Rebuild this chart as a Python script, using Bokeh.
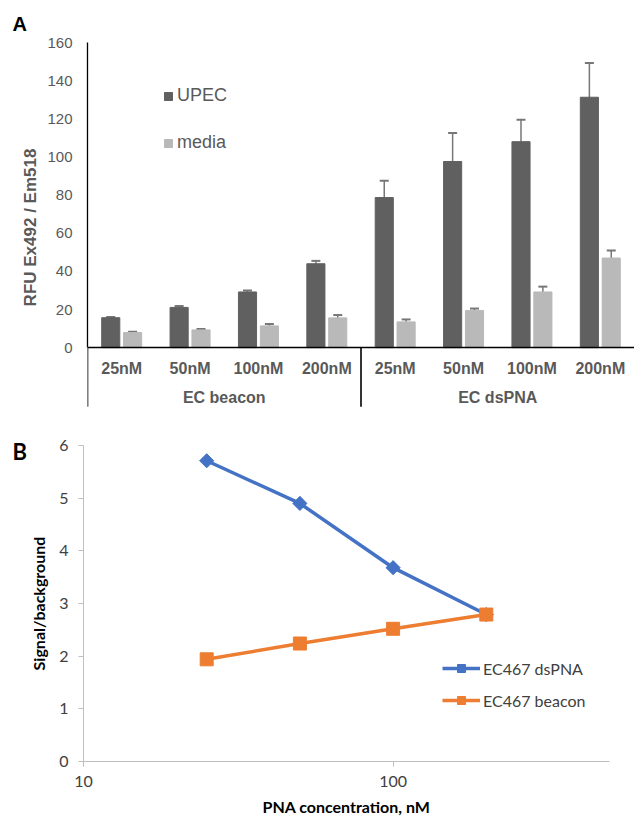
import math
from bokeh.plotting import figure
from bokeh.models import (FactorRange, Range1d, Whisker, TeeHead, ColumnDataSource,
                          Legend, FixedTicker, PrintfTickFormatter)
from bokeh.transform import dodge
from bokeh.layouts import column
from bokeh.core.properties import value
from bokeh.embed import file_html
from bokeh.resources import INLINE

# ---------------- data: panel A ----------------
groups = ["EC beacon", "EC dsPNA"]
concs = ["25nM", "50nM", "100nM", "200nM"]
upec = [15.7, 21.1, 29.2, 44.0, 78.7, 97.6, 108.0, 131.3]
upec_err = [0.4, 0.7, 0.8, 1.5, 8.8, 15.0, 11.5, 18.0]
media = [7.9, 9.3, 11.4, 15.6, 13.5, 19.5, 29.2, 47.0]
media_err = [0.4, 0.5, 1.0, 1.5, 1.3, 1.0, 2.8, 3.9]
y_ticks_a = [0, 20, 40, 60, 80, 100, 120, 140, 160]

# ---------------- data: panel B ----------------
pna_conc = [25, 50, 100, 200]
dspna = [5.71, 4.90, 3.68, 2.79]
beacon = [1.94, 2.24, 2.52, 2.79]
x_ticks_b = [10, 100]
y_ticks_b = [0, 1, 2, 3, 4, 5, 6]

ARIAL = "Liberation Sans"
CAL = "Lato"
GRAY = "#595959"

factors = [(g, c) for g in groups for c in concs]
src = ColumnDataSource(dict(
    x=factors, upec=upec, media=media,
    upec_lo=[v - e for v, e in zip(upec, upec_err)],
    upec_hi=[v + e for v, e in zip(upec, upec_err)],
    media_lo=[v - e for v, e in zip(media, media_err)],
    media_hi=[v + e for v, e in zip(media, media_err)],
))

xr = FactorRange(*factors, range_padding=0, factor_padding=0, group_padding=0,
                 subgroup_padding=0)
pA = figure(width=634, height=412, x_range=xr, y_range=Range1d(-34, 160),
            output_backend="svg", toolbar_location=None,
            min_border_left=87, min_border_right=0, min_border_top=42, min_border_bottom=0)
pA.frame_align = False
pA.outline_line_color = None
pA.xgrid.visible = False
pA.ygrid.visible = False

off = 0.16
r_upec = pA.vbar(x=dodge("x", -off, range=pA.x_range), top="upec", bottom=0, width=0.265,
                 source=src, fill_color="#606060", line_color="#606060")
r_media = pA.vbar(x=dodge("x", off, range=pA.x_range), top="media", bottom=0, width=0.265,
                  source=src, fill_color="#b9b9b9", line_color="#b9b9b9")

for key, dx in (("upec", -off), ("media", off)):
    w = Whisker(base=dodge("x", dx, range=pA.x_range), lower=key + "_lo", upper=key + "_hi",
                source=src, line_color="#777777", line_width=1.5,
                upper_head=TeeHead(size=9, line_color="#777777", line_width=2),
                lower_head=TeeHead(size=9, line_color="#777777", line_width=2))
    pA.add_layout(w)

# x axis
xa = pA.xaxis[0]
xa.fixed_location = 0
xa.axis_line_color = "black"
xa.axis_line_width = 1.3
xa.major_tick_line_color = None
xa.major_tick_out = 0
xa.major_tick_in = 0
xa.minor_tick_line_color = None
xa.major_label_standoff = 12
xa.major_label_text_font = ARIAL
xa.major_label_text_font_style = "bold"
xa.major_label_text_font_size = "16px"
xa.major_label_text_color = GRAY
xa.group_text_color = None
xa.separator_line_color = None

# group labels and separators
pA.text(x=groups, y=[-26.2, -26.2], text=groups, text_align="center", text_baseline="middle",
        text_font=value(ARIAL), text_font_style="bold", text_font_size="16px", text_color=GRAY)
sep_x = [(g, concs[0], -0.5) for g in groups]
pA.segment(x0=sep_x, x1=sep_x, y0=[0, 0], y1=[-31, -31], line_color="black", line_width=1.6)

# y axis
ya = pA.yaxis[0]
ya.bounds = (0, 160)
ya.ticker = FixedTicker(ticks=y_ticks_a)
ya.axis_line_color = "black"
ya.axis_line_width = 1.3
ya.major_tick_line_color = None
ya.major_tick_out = 0
ya.major_tick_in = 0
ya.minor_tick_line_color = None
ya.major_label_standoff = 15
ya.major_label_text_font = ARIAL
ya.major_label_text_font_size = "15px"
ya.major_label_text_color = GRAY
ya.axis_label = "RFU Ex492 / Em518"
ya.axis_label_standoff = 4
ya.axis_label_text_font = ARIAL
ya.axis_label_text_font_style = "bold"
ya.axis_label_text_font_size = "17px"
ya.axis_label_text_color = GRAY

legA = Legend(items=[("UPEC", [r_upec]), ("media", [r_media])], location=(76, 259),
              glyph_width=10, glyph_height=10, label_height=20, spacing=26, padding=0,
              margin=0, label_standoff=4, border_line_color=None, background_fill_alpha=0,
              label_text_font=ARIAL, label_text_font_size="18px", label_text_color=GRAY)
pA.add_layout(legA)

pA.title.text = "A"
pA.title.align = "left"
pA.title.offset = -75
pA.title.standoff = 16
pA.title.text_font = ARIAL
pA.title.text_font_style = "bold"
pA.title.text_font_size = "20px"
pA.title.text_color = "black"

# ---------------- panel B ----------------
pB = figure(width=634, height=408, x_axis_type="log", x_range=Range1d(10, 500),
            y_range=Range1d(0, 6), output_backend="svg", toolbar_location=None,
            min_border_left=83, min_border_right=25, min_border_top=33, min_border_bottom=59)
pB.frame_align = False
pB.outline_line_color = None
pB.xgrid.visible = False
pB.ygrid.visible = False

BLUE = "#4472C4"
ORANGE = "#ED7D31"
l1 = pB.line(pna_conc, dspna, line_color=BLUE, line_width=3.5)
s1 = pB.scatter(pna_conc, dspna, marker="square", angle=math.pi / 4, size=10,
                fill_color=BLUE, line_color=BLUE)
l2 = pB.line(pna_conc, beacon, line_color=ORANGE, line_width=3.5)
s2 = pB.scatter(pna_conc, beacon, marker="square", size=13, fill_color=ORANGE,
                line_color=ORANGE)

for ax in (pB.xaxis[0], pB.yaxis[0]):
    ax.axis_line_color = "#bfbfbf"
    ax.major_tick_line_color = "#bfbfbf"
    ax.major_tick_out = 5
    ax.major_tick_in = 0
    ax.minor_tick_line_color = None
    ax.major_label_text_font = CAL
    ax.major_label_text_font_size = "16px"
    ax.major_label_text_color = "#404040"
    ax.axis_label_text_font = CAL
    ax.axis_label_text_font_style = "bold"
    ax.axis_label_text_font_size = "16px"
    ax.axis_label_text_color = "black"

xb = pB.xaxis[0]
xb.ticker = FixedTicker(ticks=x_ticks_b)
xb.formatter = PrintfTickFormatter(format="%d")
xb.major_label_standoff = 9
xb.axis_label = "PNA concentration, nM"
xb.axis_label_standoff = 7

yb = pB.yaxis[0]
yb.ticker = FixedTicker(ticks=y_ticks_b)
yb.major_label_standoff = 10
yb.axis_label = "Signal/background"
yb.axis_label_standoff = 8

legB = Legend(items=[("EC467 dsPNA", [l1, s1]), ("EC467 beacon", [l2, s2])],
              location=(359, 51), glyph_width=38, glyph_height=20, label_height=20,
              spacing=12, padding=0, margin=0, label_standoff=3, border_line_color=None,
              background_fill_alpha=0, label_text_font=CAL, label_text_font_size="16px",
              label_text_color="#404040")
pB.add_layout(legB)

pB.title.text = "B"
pB.title.align = "left"
pB.title.offset = -71
pB.title.standoff = -38
pB.title.text_font = CAL
pB.title.text_font_style = "bold"
pB.title.text_font_size = "22px"
pB.title.text_color = "black"

layout = column(pA, pB, spacing=0)
open("out.html", "w").write(file_html(layout, INLINE))
